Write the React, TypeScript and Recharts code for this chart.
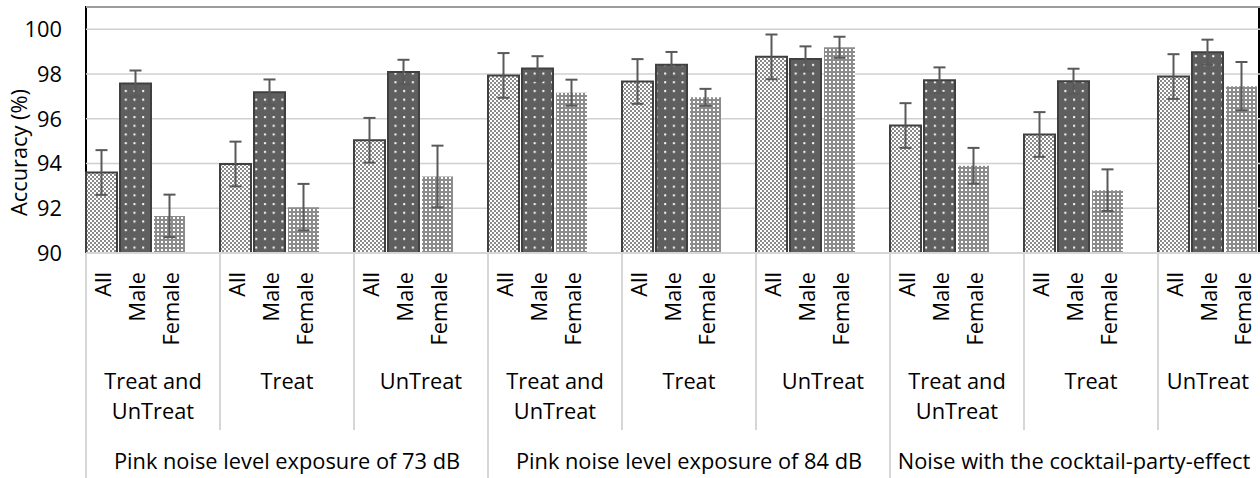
import React from "react"
import { BarChart, Bar, XAxis, YAxis, CartesianGrid, ErrorBar, LabelList } from "recharts"

const superGroups = [
    "Pink noise level exposure of 73 dB",
    "Pink noise level exposure of 84 dB",
    "Noise with the cocktail-party-effect",
]
const subGroups = ["Treat and UnTreat", "Treat", "UnTreat"]
const seriesNames = ["All", "Male", "Female"]
const yTicks = [90, 92, 94, 96, 98, 100]

const allValues = [93.6, 93.98, 95.04, 97.94, 97.67, 98.77, 95.7, 95.3, 97.89]
const allErrors = [1.0, 1.0, 1.0, 1.0, 1.0, 1.0, 1.0, 1.0, 1.0]
const maleValues = [97.58, 97.19, 98.09, 98.25, 98.42, 98.68, 97.73, 97.68, 98.98]
const maleErrors = [0.58, 0.57, 0.55, 0.55, 0.57, 0.56, 0.57, 0.56, 0.56]
const femaleValues = [91.66, 92.05, 93.42, 97.17, 96.96, 99.2, 93.9, 92.81, 97.46]
const femaleErrors = [0.95, 1.04, 1.38, 0.58, 0.38, 0.47, 0.8, 0.93, 1.08]

const data = superGroups.flatMap((sup, s) =>
    subGroups.map((sub, g) => {
        const i = s * subGroups.length + g
        return {
            key: `${s}-${g}`,
            sup,
            sub,
            all: allValues[i],
            allErr: allErrors[i],
            male: maleValues[i],
            maleErr: maleErrors[i],
            female: femaleValues[i],
            femaleErr: femaleErrors[i],
        }
    })
)

// layout (the plot runs past the right edge of the picture, like the original)
const CHART_W = 1300
const CHART_H = 478
const Y_AXIS_W = 86
const PLOT_TOP = 7
const X_AXIS_H = 225
const PLOT_BOTTOM = CHART_H - X_AXIS_H
const PLOT_W = CHART_W - 8 - Y_AXIS_W
const BAND = PLOT_W / data.length
const VISIBLE_RIGHT = 1258
const FONT = "'Open Sans', sans-serif"
const FS = 21.8
const TEXT = "#000"
const SEP = "#d6d6d6"

const wrap = (label: string, max = 10) => {
    const lines: string[] = []
    label.split(" ").forEach(w => {
        const last = lines[lines.length - 1]
        if (last !== undefined && (last + " " + w).length <= max) lines[lines.length - 1] = last + " " + w
        else lines.push(w)
    })
    return lines
}

const GroupTick = (props: any) => {
    const { x, payload } = props
    const i = props.index ?? payload.index
    const d = data[i]
    if (!d) return null
    const g = i % subGroups.length
    const left = x - BAND / 2
    const cx = (left + Math.min(x + BAND / 2, VISIBLE_RIGHT)) / 2
    const supCx = (left + Math.min(left + BAND * subGroups.length, VISIBLE_RIGHT)) / 2
    return (
        <g>
            <line x1={left} x2={left} y1={PLOT_BOTTOM} y2={g === 0 ? CHART_H : 430} stroke={SEP} strokeWidth={2} />
            <text textAnchor="middle" fontSize={FS} fontFamily={FONT} fill={TEXT}>
                {wrap(d.sub).map((ln, k) => (
                    <tspan key={k} x={cx} y={389 + k * 30}>{ln}</tspan>
                ))}
            </text>
            {g === 0 && (
                <text x={supCx} y={469} textAnchor="middle" fontSize={FS} fontFamily={FONT} fill={TEXT}>
                    {d.sup}
                </text>
            )}
        </g>
    )
}

const seriesLabel = (name: string) => (p: any) => {
    const vb = p.viewBox ?? p
    const cx = vb.x + vb.width / 2
    return (
        <text
            transform={`translate(${cx + 9}, ${PLOT_BOTTOM + 19}) rotate(-90)`}
            textAnchor="end"
            fontSize={FS}
            fontFamily={FONT}
            fill={TEXT}
        >
            {name}
        </text>
    )
}

const YLabel = () => (
    <text
        transform={`translate(26.5, 152.5) rotate(-90)`}
        textAnchor="middle"
        fontSize={FS}
        fontFamily={FONT}
        fill={TEXT}
    >
        Accuracy (%)
    </text>
)

export default function App() {
    return (
        <div style={{ position: "absolute", left: 0, top: 0, width: 1260, height: CHART_H, overflow: "hidden", background: "#fff" }}>
            {/* plot frame, behind the bars */}
            <div
                style={{
                    position: "absolute",
                    left: Y_AXIS_W - 1,
                    top: PLOT_TOP - 1,
                    width: VISIBLE_RIGHT + 2 - (Y_AXIS_W - 1),
                    height: PLOT_BOTTOM - PLOT_TOP + 1,
                    border: "2px solid #000",
                    borderBottom: "none",
                    boxSizing: "border-box",
                }}
            />
            <BarChart
                width={CHART_W}
                height={CHART_H}
                data={data}
                margin={{ top: PLOT_TOP, right: 8, left: 0, bottom: 0 }}
                barCategoryGap={0}
                barGap={3}
            >
                <defs>
                    <pattern id="patAll" width={4} height={4} patternUnits="userSpaceOnUse">
                        <rect width={4} height={4} fill="#fff" />
                        <rect x={0} y={0} width={2} height={2} fill="#8a8a8a" />
                        <rect x={2} y={2} width={2} height={2} fill="#8a8a8a" />
                    </pattern>
                    <pattern id="patMale" width={8.7} height={8.7} patternUnits="userSpaceOnUse">
                        <rect width={8.7} height={8.7} fill="#5f5f5f" />
                        <rect x={3} y={3} width={2} height={2} fill="#fff" />
                    </pattern>
                    <pattern id="patFemale" width={4} height={4} patternUnits="userSpaceOnUse">
                        <rect width={4} height={4} fill="#8c8c8c" />
                        <rect x={1} y={1} width={2} height={2} fill="#fff" />
                    </pattern>
                </defs>
                <CartesianGrid vertical={false} stroke="#d0d0d0" strokeWidth={1.5} />
                <XAxis
                    dataKey="key"
                    interval={0}
                    height={X_AXIS_H}
                    axisLine={{ stroke: SEP, strokeWidth: 2 }}
                    tickLine={false}
                    tick={<GroupTick />}
                />
                <YAxis
                    type="number"
                    domain={[90, 101]}
                    ticks={yTicks}
                    allowDataOverflow
                    width={Y_AXIS_W}
                    axisLine={false}
                    tickLine={false}
                    tickSize={0}
                    tickMargin={24}
                    tick={{ fill: TEXT, fontSize: FS, fontFamily: FONT }}
                    label={<YLabel />}
                />
                <Bar dataKey="all" fill="url(#patAll)" stroke="#404040" strokeWidth={2} isAnimationActive={false}>
                    <ErrorBar dataKey="allErr" width={6} strokeWidth={2} stroke="#595959" />
                    <LabelList content={seriesLabel(seriesNames[0])} />
                </Bar>
                <Bar dataKey="male" fill="url(#patMale)" stroke="#404040" strokeWidth={2} isAnimationActive={false}>
                    <ErrorBar dataKey="maleErr" width={6} strokeWidth={2} stroke="#595959" />
                    <LabelList content={seriesLabel(seriesNames[1])} />
                </Bar>
                <Bar dataKey="female" fill="url(#patFemale)" isAnimationActive={false}>
                    <ErrorBar dataKey="femaleErr" width={6} strokeWidth={2} stroke="#595959" />
                    <LabelList content={seriesLabel(seriesNames[2])} />
                </Bar>
                {/* empty fourth slot: the original leaves room for it in every group */}
                <Bar dataKey="spacer" isAnimationActive={false} />
            </BarChart>
        </div>
    )
}
